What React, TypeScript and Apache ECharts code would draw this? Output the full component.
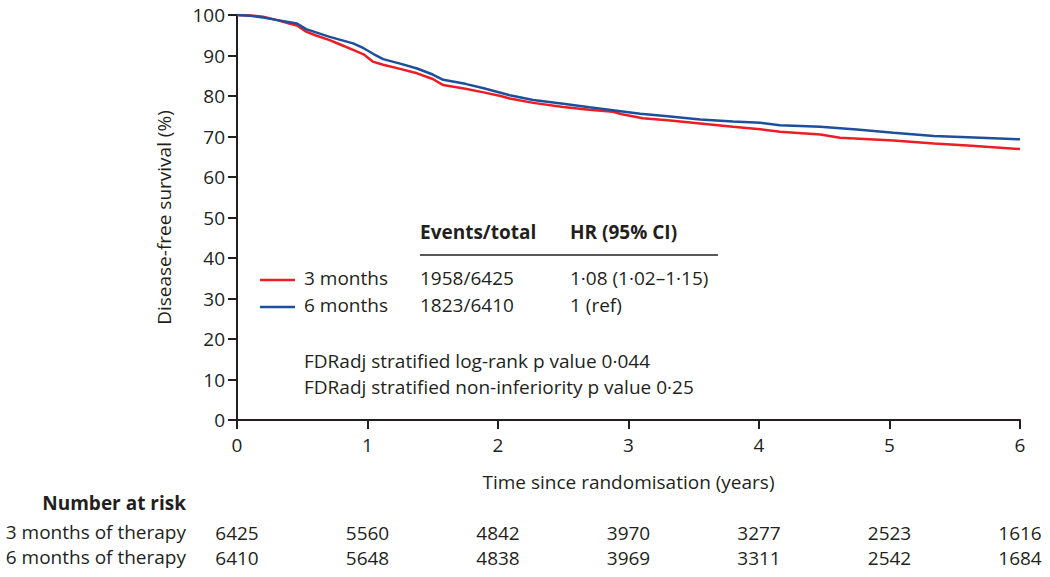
import React, { useEffect, useRef } from "react";
import * as echarts from "echarts";

const FONT = "'Open Sans', sans-serif";
const TXT = "#231f20";
const RED = "#ee1c25";
const BLUE = "#1c4f9c";

const xTicks = [0, 1, 2, 3, 4, 5, 6];
const yTicks = [0, 10, 20, 30, 40, 50, 60, 70, 80, 90, 100];

const time3 = [0, 0.1, 0.2, 0.3, 0.4, 0.46, 0.53, 0.6, 0.71, 0.8, 0.89, 0.97, 1.04, 1.12, 1.25, 1.38, 1.5, 1.58, 1.75, 1.89, 2.02, 2.09, 2.27, 2.5, 2.7, 2.88, 2.95, 3.11, 3.3, 3.55, 3.8, 4.01, 4.16, 4.47, 4.62, 5.03, 5.34, 5.6, 6];
const surv3 = [100, 99.9, 99.6, 98.8, 97.9, 97.4, 95.9, 95.0, 93.8, 92.6, 91.4, 90.3, 88.5, 87.7, 86.7, 85.6, 84.2, 82.7, 81.8, 80.9, 80.0, 79.4, 78.3, 77.3, 76.6, 76.1, 75.5, 74.5, 74.0, 73.2, 72.4, 71.8, 71.2, 70.5, 69.7, 69.0, 68.3, 67.8, 66.9];

const time6 = [0, 0.1, 0.2, 0.3, 0.46, 0.53, 0.71, 0.89, 0.97, 1.05, 1.12, 1.25, 1.38, 1.5, 1.58, 1.75, 1.89, 2.02, 2.09, 2.27, 2.5, 2.7, 2.88, 3.09, 3.3, 3.55, 3.8, 4.01, 4.16, 4.47, 4.75, 5.03, 5.34, 5.6, 6];
const surv6 = [100, 99.8, 99.4, 98.8, 97.9, 96.5, 94.6, 93.0, 91.8, 90.3, 89.1, 88.0, 86.8, 85.3, 84.0, 83.0, 81.9, 80.8, 80.2, 79.0, 78.1, 77.2, 76.5, 75.6, 75.0, 74.2, 73.7, 73.4, 72.8, 72.4, 71.7, 70.9, 70.1, 69.8, 69.3];

const risk3 = [6425, 5560, 4842, 3970, 3277, 2523, 1616];
const risk6 = [6410, 5648, 4838, 3969, 3311, 2542, 1684];

const groupLabels = ["3 months", "6 months"];
const riskLabels = ["3 months of therapy", "6 months of therapy"];
const eventsTotal = ["1958/6425", "1823/6410"];
const hrText = ["1·08 (1·02–1·15)", "1 (ref)"];
const pNotes = [
  "FDRadj stratified log-rank p value 0·044",
  "FDRadj stratified non-inferiority p value 0·25",
];

function pairs(t: number[], v: number[]) {
  return t.map((x, i) => [x, v[i]]);
}

export default function App() {
  const ref = useRef<HTMLDivElement>(null);
  useEffect(() => {
    if (!ref.current) return;
    const chart = echarts.init(ref.current, undefined, { renderer: "svg" });
    const ts = { fontFamily: FONT, fontSize: 19, fill: TXT };
    const riskAxis = (vals: number[], offset: number) => ({
      type: "value",
      min: xTicks[0],
      max: xTicks[xTicks.length - 1],
      interval: 1,
      position: "bottom",
      offset,
      axisLine: { show: false },
      axisTick: { show: false },
      splitLine: { show: false },
      axisLabel: {
        margin: 8,
        fontFamily: FONT,
        fontSize: 19,
        color: TXT,
        formatter: (v: number) => String(vals[Math.round(v)] ?? ""),
      },
    });
    chart.setOption({
      animation: false,
      grid: { left: 237, right: 30, top: 15, bottom: 157, containLabel: false },
      xAxis: [
        {
          type: "value",
          min: xTicks[0],
          max: xTicks[xTicks.length - 1],
          interval: 1,
          name: "Time since randomisation (years)",
          nameLocation: "middle",
          nameGap: 52,
          nameTextStyle: { fontFamily: FONT, fontSize: 19, color: TXT },
          axisLine: { lineStyle: { color: TXT, width: 2 } },
          axisTick: { length: 9, lineStyle: { color: TXT, width: 2 } },
          splitLine: { show: false },
          axisLabel: { margin: 15, fontFamily: FONT, fontSize: 19, color: TXT },
        },
        riskAxis(risk3, 95),
        riskAxis(risk6, 120),
      ],
      yAxis: {
        type: "value",
        min: yTicks[0],
        max: yTicks[yTicks.length - 1],
        interval: 10,
        name: "Disease-free survival (%)",
        nameLocation: "middle",
        nameGap: 64,
        nameTextStyle: { fontFamily: FONT, fontSize: 19, color: TXT },
        axisLine: { show: true, lineStyle: { color: TXT, width: 2 } },
        axisTick: { show: true, length: 9, lineStyle: { color: TXT, width: 2 } },
        splitLine: { show: false },
        axisLabel: { margin: 12, fontFamily: FONT, fontSize: 19, color: TXT },
      },
      series: [
        {
          type: "line",
          name: groupLabels[0],
          data: pairs(time3, surv3),
          showSymbol: false,
          lineStyle: { color: RED, width: 2.5 },
          itemStyle: { color: RED },
          z: 3,
        },
        {
          type: "line",
          name: groupLabels[1],
          data: pairs(time6, surv6),
          showSymbol: false,
          lineStyle: { color: BLUE, width: 2.5 },
          itemStyle: { color: BLUE },
          z: 4,
        },
      ],
      graphic: [
        { type: "text", left: 420, top: 222, style: { ...ts, text: "Events/total", fontWeight: "bold" } },
        { type: "text", left: 570, top: 222, style: { ...ts, text: "HR (95% CI)", fontWeight: "bold" } },
        { type: "line", shape: { x1: 420, y1: 255, x2: 718, y2: 255 }, style: { stroke: TXT, lineWidth: 1.5 } },
        { type: "line", shape: { x1: 260, y1: 280, x2: 295, y2: 280 }, style: { stroke: RED, lineWidth: 2.5 } },
        { type: "line", shape: { x1: 260, y1: 307, x2: 295, y2: 307 }, style: { stroke: BLUE, lineWidth: 2.5 } },
        { type: "text", left: 304, top: 268, style: { ...ts, text: groupLabels[0] } },
        { type: "text", left: 304, top: 295, style: { ...ts, text: groupLabels[1] } },
        { type: "text", left: 420, top: 268, style: { ...ts, text: eventsTotal[0] } },
        { type: "text", left: 420, top: 295, style: { ...ts, text: eventsTotal[1] } },
        { type: "text", left: 570, top: 268, style: { ...ts, text: hrText[0] } },
        { type: "text", left: 570, top: 295, style: { ...ts, text: hrText[1] } },
        { type: "text", left: 304, top: 351, style: { ...ts, text: pNotes[0] } },
        { type: "text", left: 304, top: 377, style: { ...ts, text: pNotes[1] } },
        { type: "text", x: 186, y: 503, style: { ...ts, text: "Number at risk", fontWeight: "bold", align: "right", verticalAlign: "middle" } },
        { type: "text", x: 186, y: 532, style: { ...ts, text: riskLabels[0], align: "right", verticalAlign: "middle" } },
        { type: "text", x: 186, y: 557, style: { ...ts, text: riskLabels[1], align: "right", verticalAlign: "middle" } },
      ],
    });
    return () => chart.dispose();
  }, []);
  return <div ref={ref} style={{ width: 1050, height: 577, position: "absolute", left: 0, top: 0 }} />;
}
